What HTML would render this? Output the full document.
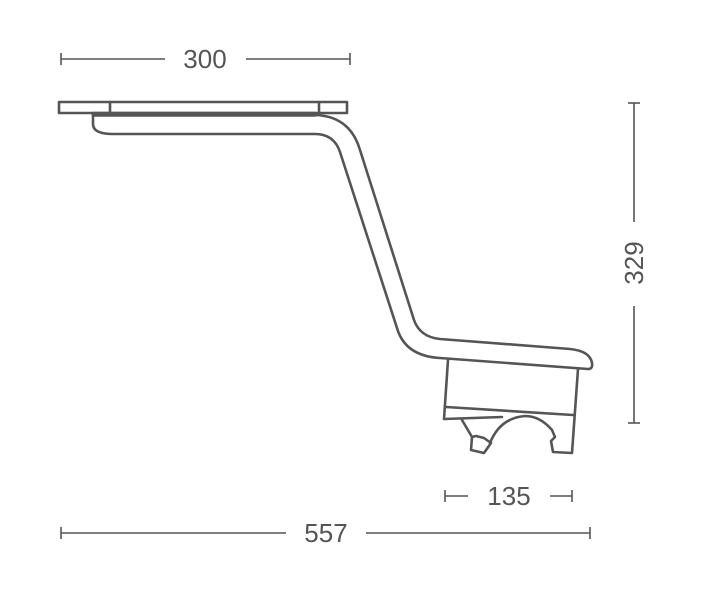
<!DOCTYPE html>
<html><head><meta charset="utf-8"><style>
html,body{margin:0;padding:0;background:#fff;}
svg{display:block}
text{font-family:"Liberation Sans",sans-serif;font-size:26px;fill:#555;}
</style></head><body>
<svg width="710" height="592" viewBox="0 0 710 592" xmlns="http://www.w3.org/2000/svg">
<g fill="none" stroke="#555" stroke-width="2.6" stroke-linejoin="round" stroke-linecap="round">
<rect x="59" y="102" width="288" height="11"/>
<line x1="110" y1="102" x2="110" y2="113"/>
<line x1="319" y1="102" x2="319" y2="113"/>
<rect x="93" y="113" width="222" height="2.5"/>
<path d="M93,115 L93,124 Q93,134 113,134 L315,134 Q334,134 340,152 L397,328 Q405,356 440,358 L588,369 Q593,369 592,363 Q590,351 570,349 L440,339 Q420,337 414,320 L360,150 Q350,116 315,115"/>
<path d="M448,360 L444,419 L502,417"/>
<path d="M578,369 L572,453 L553,452 L551,441 L555,437 L552,430 Q540,416 525,416 Q500,418 490,443"/>
<line x1="446" y1="407" x2="573" y2="415"/>
<path d="M462,420 L472,437 L471,450 L484,453 L491,443 L484,438 L476,436 L472,437"/>
</g>
<g stroke="#555" stroke-width="1.6" fill="none">
<line x1="61" y1="59" x2="165" y2="59"/><line x1="246" y1="59" x2="350" y2="59"/>
<line x1="61" y1="53" x2="61" y2="65"/><line x1="350" y1="53" x2="350" y2="65"/>
<line x1="634" y1="103" x2="634" y2="222"/><line x1="634" y1="306" x2="634" y2="423"/>
<line x1="628" y1="103" x2="640" y2="103"/><line x1="628" y1="423" x2="640" y2="423"/>
<line x1="445" y1="496" x2="468" y2="496"/><line x1="550" y1="496" x2="572" y2="496"/>
<line x1="445" y1="490" x2="445" y2="502"/><line x1="572" y1="490" x2="572" y2="502"/>
<line x1="61" y1="533" x2="286" y2="533"/><line x1="366" y1="533" x2="590" y2="533"/>
<line x1="61" y1="527" x2="61" y2="539"/><line x1="590" y1="527" x2="590" y2="539"/>
</g>
<text x="205" y="68" text-anchor="middle">300</text>
<text x="509" y="505" text-anchor="middle">135</text>
<text x="326" y="542" text-anchor="middle">557</text>
<text transform="translate(643,263) rotate(-90)" text-anchor="middle">329</text>
</svg>
</body></html>
